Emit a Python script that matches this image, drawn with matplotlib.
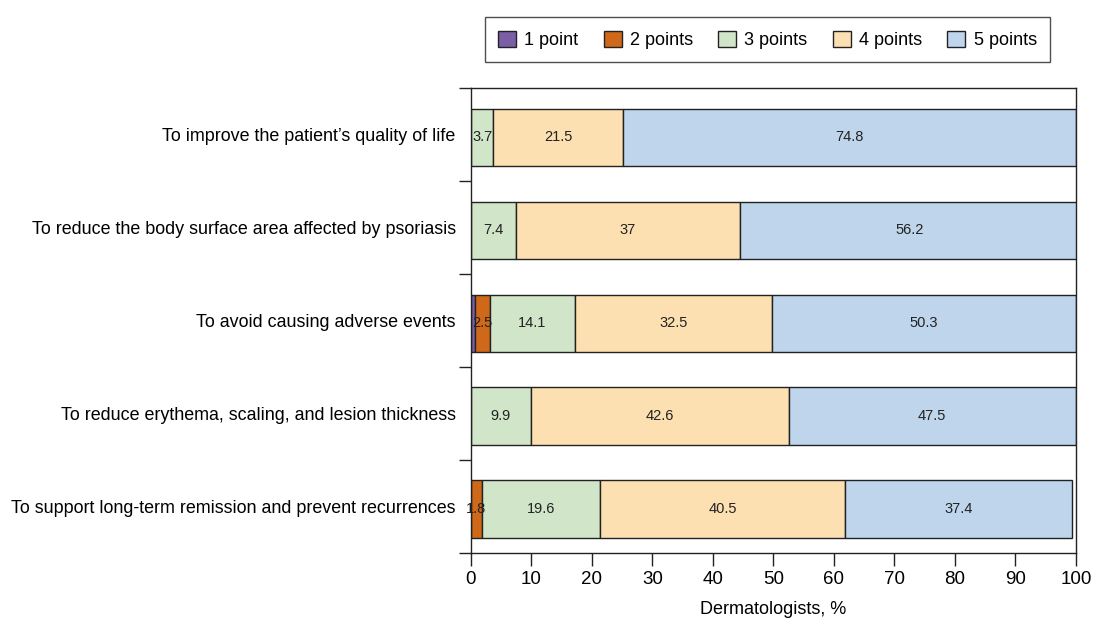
import numpy as np
import matplotlib.pyplot as plt
from matplotlib.patches import Patch

plt.rcParams['font.family'] = ['Liberation Sans', 'DejaVu Sans']

categories = [
	'To improve the patient\u2019s quality of life',
	'To reduce the body surface area affected by psoriasis',
	'To avoid causing adverse events',
	'To reduce erythema, scaling, and lesion thickness',
	'To support long-term remission and prevent recurrences',
]
series_labels = ['1 point', '2 points', '3 points', '4 points', '5 points']
point1 = [0.0, 0.0, 0.6, 0.0, 0.0]
point2 = [0.0, 0.0, 2.5, 0.0, 1.8]
point3 = [3.7, 7.4, 14.1, 9.9, 19.6]
point4 = [21.5, 37.0, 32.5, 42.6, 40.5]
point5 = [74.8, 56.2, 50.3, 47.5, 37.4]
x_ticks = [0, 10, 20, 30, 40, 50, 60, 70, 80, 90, 100]

colors = ['#7b5fa6', '#d0681a', '#d1e5c9', '#fde0b2', '#bed5ec']


def fmt(v):
	return f'{v:g}'


fig = plt.figure(figsize=(10.94, 6.24), dpi=100)
ax = fig.add_axes([0.4305, 0.1138, 0.553, 0.745])

series = [point1, point2, point3, point4, point5]
y = np.arange(len(categories))
left = np.zeros(len(categories))
for values, color in zip(series, colors):
	values = np.array(values)
	ax.barh(y + 0.03, values, left=left, height=0.62, color=color,
	        edgecolor='#222222', linewidth=1.0, zorder=2)
	for yi, (l, v) in enumerate(zip(left, values)):
		if v >= 1:
			ax.text(l + v / 2, yi + 0.03, fmt(v), ha='center', va='center',
			        fontsize=10.5, color='#222222', zorder=3)
	left = left + values

ax.set_xlim(0, 100)
ax.set_ylim(len(categories) - 0.5, -0.5)
ax.set_xticks(x_ticks)
ax.set_xticklabels([str(t) for t in x_ticks], fontsize=13.5)
ax.set_yticks(y)
ax.set_yticklabels(categories, fontsize=12.9)
ax.tick_params(axis='y', length=0, pad=11)
ax.set_yticks(np.arange(-0.5, len(categories), 1.0), minor=True)
ax.tick_params(axis='y', which='minor', length=9, width=1.0, color='#222222')
ax.tick_params(axis='x', length=9, width=1.0, color='#222222', pad=4)
for spine in ax.spines.values():
	spine.set_color('#222222')
	spine.set_linewidth(1.0)
ax.set_xlabel('Dermatologists, %', fontsize=13, labelpad=9)

handles = [Patch(facecolor=c, edgecolor='#222222', linewidth=1.0) for c in colors]
leg = ax.legend(handles, series_labels, loc='lower center', bbox_to_anchor=(0.49, 1.036),
                ncol=5, fontsize=13, frameon=True, fancybox=False, edgecolor='#222222',
                handlelength=1.0, handleheight=1.0, handletextpad=0.45, columnspacing=1.4,
                borderpad=0.75)
leg.get_frame().set_linewidth(1.0)

fig.savefig('out.png', dpi=100)
